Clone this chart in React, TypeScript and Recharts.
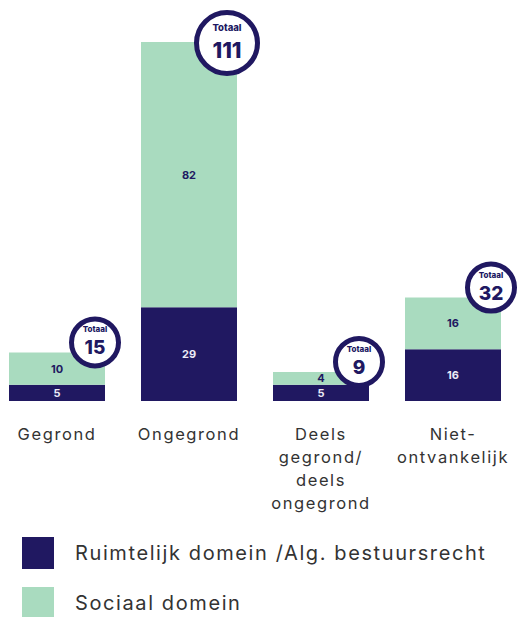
import { BarChart, Bar, XAxis, YAxis, LabelList, Legend } from "recharts"

const categories = ["Gegrond", "Ongegrond", "Deels gegrond/deels ongegrond", "Niet-ontvankelijk"]
const tickLines = [["Gegrond"], ["Ongegrond"], ["Deels", "gegrond/", "deels", "ongegrond"], ["Niet-", "ontvankelijk"]]
const ruimtelijk = [5, 29, 5, 16]
const sociaal = [10, 82, 4, 16]
const totals = [15, 111, 9, 32]

const NAVY = "#201861"
const GREEN = "#a9dbbf"
const FONT = "Inter, 'Noto Sans', sans-serif"

const data = categories.map((c, i) => ({
  name: c,
  ruimtelijk: ruimtelijk[i],
  sociaal: sociaal[i],
}))

const CategoryTick = ({ x, y, payload }: any) => {
  const lines = tickLines[payload.index] ?? [payload.value]
  return (
    <text x={x} y={y + 31} textAnchor="middle" fill="#333" fontSize={16.5} letterSpacing={1.6} fontFamily={FONT}>
      {lines.map((l: string, i: number) => (
        <tspan key={i} x={x} dy={i === 0 ? 0 : 23}>{l}</tspan>
      ))}
    </text>
  )
}

const TotalBadge = ({ x, y, width, index }: any) => {
  const total = totals[index]
  const big = total > 99
  const r = big ? 33 : 26
  const cx = x + width - 10
  const cy = Math.max(y - 10, r + 10)
  return (
    <g>
      <circle cx={cx} cy={cy} r={r - 2.5} fill="#fff" stroke={NAVY} strokeWidth={5} />
      <text x={cx} y={cy - (big ? 12 : 10)} textAnchor="middle" fill={NAVY}
        fontSize={big ? 9.5 : 8} fontWeight={800} fontFamily={FONT}>Totaal</text>
      <text x={cx} y={cy + (big ? 15 : 12)} textAnchor="middle" fill={NAVY}
        fontSize={big ? 22 : 19} fontWeight={800} fontFamily={FONT}>{total}</text>
    </g>
  )
}

const LegendContent = ({ payload }: any) => (
  <div style={{ fontFamily: FONT, color: "#333" }}>
    {(payload || []).map((p: any) => (
      <div key={p.value} style={{ display: "flex", alignItems: "center", height: 32, marginBottom: 18 }}>
        <span style={{ width: 32, height: 32, background: p.color, display: "inline-block" }} />
        <span style={{ marginLeft: 21, fontSize: 20, letterSpacing: 1.6, whiteSpace: "nowrap" }}>{p.value}</span>
      </div>
    ))}
  </div>
)

export default function App() {
  return (
    <div style={{ position: "absolute", left: -9, top: 0 }}>
      <BarChart
        width={536}
        height={617}
        data={data}
        margin={{ top: 42, right: 8, left: 0, bottom: 116 }}
        barSize={96}
      >
        <XAxis dataKey="name" axisLine={false} tickLine={false} height={100} interval={0} tick={<CategoryTick />} />
        <YAxis hide domain={[0, 111]} />
        <Legend
          layout="vertical"
          align="center"
          verticalAlign="middle"
          content={<LegendContent />}
          wrapperStyle={{ top: 537, left: 31, width: 505 }}
        />
        <Bar dataKey="ruimtelijk" name="Ruimtelijk domein /Alg. bestuursrecht" stackId="a" fill={NAVY} isAnimationActive={false}>
          <LabelList dataKey="ruimtelijk" position="center" fill="#eceaf6" fontSize={11} fontWeight={700} fontFamily={FONT} />
        </Bar>
        <Bar dataKey="sociaal" name="Sociaal domein" stackId="a" fill={GREEN} isAnimationActive={false}>
          <LabelList dataKey="sociaal" position="center" fill={NAVY} fontSize={11} fontWeight={700} fontFamily={FONT} />
          <LabelList dataKey="sociaal" content={<TotalBadge />} />
        </Bar>
      </BarChart>
    </div>
  )
}
